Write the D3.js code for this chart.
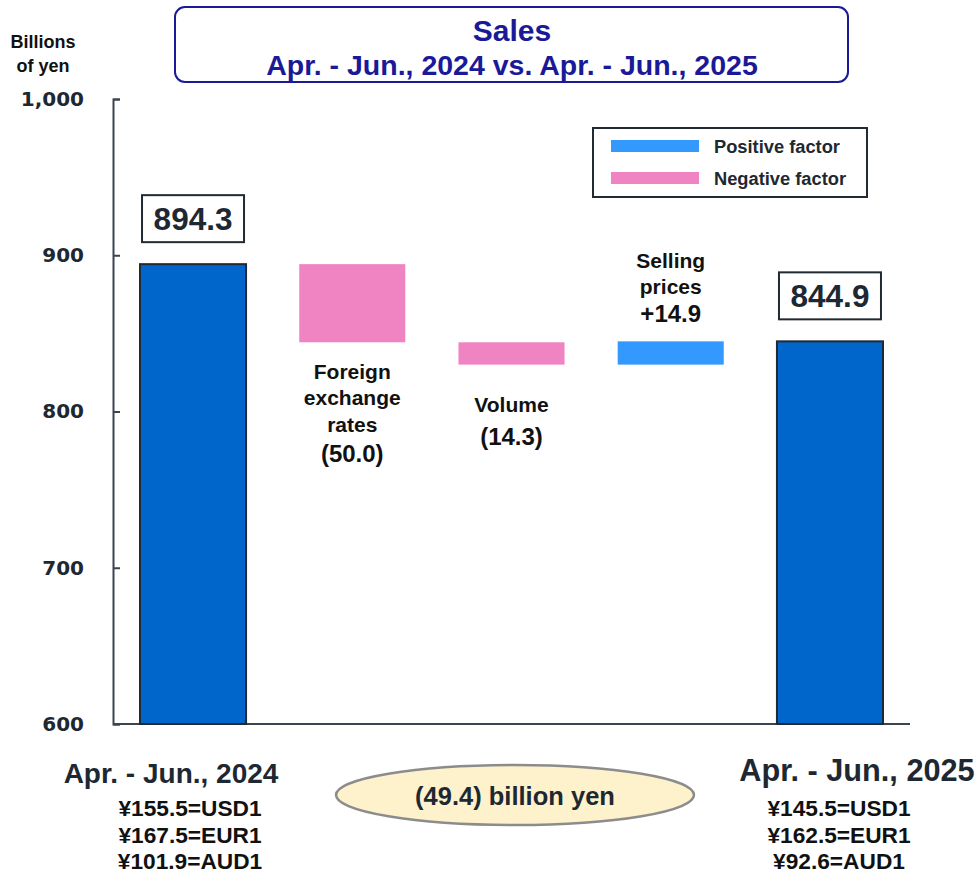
<!DOCTYPE html>
<html>
<head>
<meta charset="utf-8">
<script src="https://cdn.jsdelivr.net/npm/d3@7"></script>
<style>
  body { margin: 0; background: #fff; }
  text { font-family: "Liberation Sans", Arial, sans-serif; font-weight: bold; }
</style>
</head>
<body>
<div id="chart"></div>
<script>
// data
var categories = ["Apr. - Jun., 2024", "Foreign exchange rates", "Volume", "Selling prices", "Apr. - Jun., 2025"];
var startTotal = 894.3;
var factorDeltas = [-50.0, -14.3, 14.9];
var endTotal = 844.9;
var factorLabels = [["Foreign", "exchange", "rates", "(50.0)"], ["Volume", "(14.3)"], ["Selling", "prices", "+14.9"]];
var yTicks = [600, 700, 800, 900, 1000];
var leftRates = ["¥155.5=USD1", "¥167.5=EUR1", "¥101.9=AUD1"];
var rightRates = ["¥145.5=USD1", "¥162.5=EUR1", "¥92.6=AUD1"];
var totalChange = "(49.4) billion yen";
var legendItems = [{ label: "Positive factor", color: "#3399ff" }, { label: "Negative factor", color: "#f083c1" }];

var W = 980, H = 875;
var ink = "#1e2832", navy = "#1a1a99";

var svg = d3.select("#chart").append("svg").attr("width", W).attr("height", H);

var y = d3.scaleLinear().domain([600, 1000]).range([724, 99]);
var x = d3.scaleBand().domain(categories).range([140, 883]).paddingInner(0.334).paddingOuter(0);

// build waterfall rows
var rows = [{ cat: categories[0], from: 600, to: startTotal, type: "total" }];
var run = startTotal;
factorDeltas.forEach(function(d, i) {
  rows.push({ cat: categories[i + 1], from: run, to: run + d, type: d < 0 ? "neg" : "pos", lines: factorLabels[i] });
  run += d;
});
rows.push({ cat: categories[4], from: 600, to: endTotal, type: "total" });

var fills = { total: "#0066cc", neg: "#f083c1", pos: "#3399ff" };

// title
svg.append("rect").attr("x", 175).attr("y", 7).attr("width", 673).attr("height", 75).attr("rx", 10)
  .attr("fill", "#fff").attr("stroke", navy).attr("stroke-width", 2);
svg.append("text").attr("x", 512).attr("y", 41).attr("text-anchor", "middle")
  .style("font-size", "30px").attr("fill", navy).text("Sales");
svg.append("text").attr("x", 512).attr("y", 75).attr("text-anchor", "middle")
  .style("font-size", "28.5px").attr("fill", navy).text("Apr. - Jun., 2024 vs. Apr. - Jun., 2025");

// unit
svg.append("text").attr("x", 43).attr("y", 48).attr("text-anchor", "middle").style("font-size", "18px").attr("fill", "#111").text("Billions");
svg.append("text").attr("x", 43).attr("y", 72).attr("text-anchor", "middle").style("font-size", "18px").attr("fill", "#111").text("of yen");

// axes
var yAxis = d3.axisLeft(y).tickValues(yTicks).tickFormat(d3.format(",")).tickSizeInner(-7).tickSizeOuter(-7).tickPadding(29);
var gy = svg.append("g").attr("transform", "translate(113,0)").call(yAxis);
gy.selectAll("path, line").attr("stroke", "#3a4550").attr("stroke-width", 2);
gy.selectAll("text").style("font-family", "'DejaVu Sans', sans-serif").style("font-weight", "bold")
  .style("font-size", "20px").attr("fill", ink);

svg.append("line").attr("x1", 113).attr("x2", 910).attr("y1", y(600)).attr("y2", y(600))
  .attr("stroke", "#3a4550").attr("stroke-width", 2);

// bars
svg.selectAll("rect.bar").data(rows).enter().append("rect").attr("class", "bar")
  .attr("x", function(d) { return x(d.cat); })
  .attr("width", x.bandwidth())
  .attr("y", function(d) { return y(Math.max(d.from, d.to)); })
  .attr("height", function(d) { return Math.abs(y(d.from) - y(d.to)); })
  .attr("fill", function(d) { return fills[d.type]; })
  .attr("stroke", function(d) { return d.type == "total" ? "#1f2a33" : "none"; })
  .attr("stroke-width", 2);

// total value boxes
var totals = rows.filter(function(d) { return d.type == "total"; });
var tb = svg.selectAll("g.tot").data(totals).enter().append("g").attr("class", "tot")
  .attr("transform", function(d) { return "translate(" + (x(d.cat) + x.bandwidth() / 2) + "," + (y(d.to) - 22) + ")"; });
tb.append("rect").attr("x", -51).attr("y", -47).attr("width", 102).attr("height", 47)
  .attr("fill", "#fff").attr("stroke", "#1f2a33").attr("stroke-width", 2);
tb.append("text").attr("y", -12).attr("text-anchor", "middle").style("font-size", "31.5px").attr("fill", ink)
  .text(function(d) { return d3.format(".1f")(d.to); });

// factor labels
rows.filter(function(d) { return d.lines; }).forEach(function(d, i) {
  var cx = x(d.cat) + x.bandwidth() / 2;
  var startY = d.type == "pos" ? y(d.to) - 81 : y(Math.min(d.from, d.to)) + (i == 0 ? 29 : 40);
  var gap = d.type == "pos" ? 26.5 : (i == 0 ? 26.5 : 32);
  d.lines.forEach(function(t, j) {
    var big = /\d/.test(t);
    svg.append("text").attr("x", cx).attr("y", startY + j * gap + (big && d.type == "neg" && i == 0 ? 3 : 0))
      .attr("dy", "0.36em").attr("text-anchor", "middle")
      .style("font-size", big ? "24px" : "21px").attr("fill", "#111").text(t);
  });
});

// legend
var lg = svg.append("g").attr("transform", "translate(593,128)");
lg.append("rect").attr("width", 274).attr("height", 69).attr("fill", "#fff").attr("stroke", "#222a33").attr("stroke-width", 2);
legendItems.forEach(function(d, i) {
  lg.append("rect").attr("x", 18).attr("y", 12 + i * 32).attr("width", 88).attr("height", 12).attr("fill", d.color);
  lg.append("text").attr("x", 121).attr("y", 18 + i * 32).attr("dy", "0.36em").style("font-size", "18.3px")
    .attr("fill", ink).text(d.label);
});

// bottom category labels
svg.append("text").attr("x", 171).attr("y", 773).attr("dy", "0.36em").attr("text-anchor", "middle")
  .style("font-size", "28px").attr("fill", ink).text(categories[0]);
svg.append("text").attr("x", 857).attr("y", 770).attr("dy", "0.36em").attr("text-anchor", "middle")
  .style("font-size", "30.7px").attr("fill", ink).text(categories[4]);

leftRates.forEach(function(t, i) {
  svg.append("text").attr("x", 190).attr("y", 808 + i * 26.5).attr("dy", "0.36em").attr("text-anchor", "middle")
    .style("font-size", "22.7px").attr("fill", "#111").text(t);
});
rightRates.forEach(function(t, i) {
  svg.append("text").attr("x", 839).attr("y", 808 + i * 26.5).attr("dy", "0.36em").attr("text-anchor", "middle")
    .style("font-size", "22.7px").attr("fill", "#111").text(t);
});

// total change ellipse
svg.append("ellipse").attr("cx", 515).attr("cy", 795).attr("rx", 179).attr("ry", 30)
  .attr("fill", "#fdf2cc").attr("stroke", "#8c8c8c").attr("stroke-width", 2.5);
svg.append("text").attr("x", 515).attr("y", 796).attr("dy", "0.36em").attr("text-anchor", "middle")
  .style("font-size", "25.5px").attr("fill", ink).text(totalChange);
</script>
</body>
</html>
